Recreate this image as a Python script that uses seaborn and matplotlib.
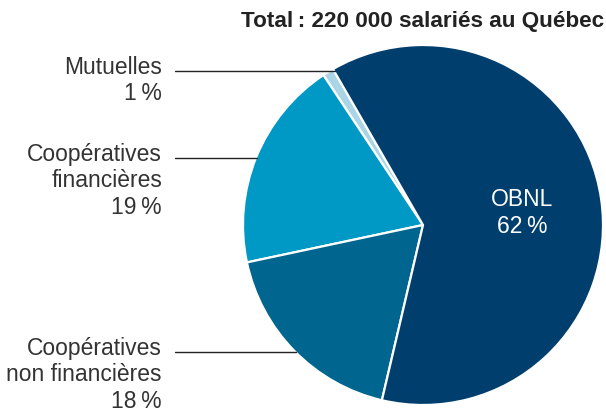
import numpy as np
import matplotlib
matplotlib.use("Agg")
import matplotlib.pyplot as plt
import seaborn as sns

# data
segments = ["Mutuelles", "Coopératives\nfinancières", "Coopératives\nnon financières", "OBNL"]
shares = [1, 19, 18, 62]
colors = ["#a9d5e7", "#0098c4", "#00658f", "#003f6d"]
title = "Total\u2009: 220 000 salariés au Québec"

sns.set_style("white")
plt.rcParams["font.family"] = ["Liberation Sans", "DejaVu Sans"]

W, H = 606, 408
cx, cy, r = 423, 225, 180

def px(x, y):
    # pixel (from top-left) -> data coords
    return (x - cx) / r, (cy - y) / r

fig = plt.figure(figsize=(W / 100, H / 100), dpi=100)
ax = fig.add_axes([0, 0, 1, 1])
wedges, _ = ax.pie(shares, colors=colors, startangle=120, counterclock=True,
                   wedgeprops=dict(edgecolor="white", linewidth=1.6))
ax.set_xlim(-cx / r, (W - cx) / r)
ax.set_ylim(-(H - cy) / r, cy / r)
ax.set_aspect("auto")
ax.axis("off")

txt = "#333333"
fs = 16.5

# left labels with leader lines
label_rows = [71, 158, 352]
for i, yy in enumerate(label_rows):
    s = f"{segments[i]}\n{shares[i]}\u2009%"
    x0, y0 = px(162, yy - 15.5)
    ax.text(x0, y0, s, ha="right", va="top", fontsize=fs, color=txt,
            linespacing=1.22)
    yd = (cy - yy) / r
    xe = -np.sqrt(1 - yd ** 2) + (0.03 if i == 0 else 0.005)
    xs, _ = px(175, yy)
    ax.plot([xs, xe], [yd, yd], color="#222222", lw=1.0)

ox, oy = px(522, 213)
ax.text(ox, oy, f"{segments[3]}\n{shares[3]}\u2009%", ha="center", va="center",
        fontsize=fs, color="white", linespacing=1.22)

tx, ty = px(604, 21)
ax.text(tx, ty, title, ha="right", va="center", fontsize=16.2,
        fontweight="bold", color="#222222")

fig.savefig("out.png", dpi=100)
